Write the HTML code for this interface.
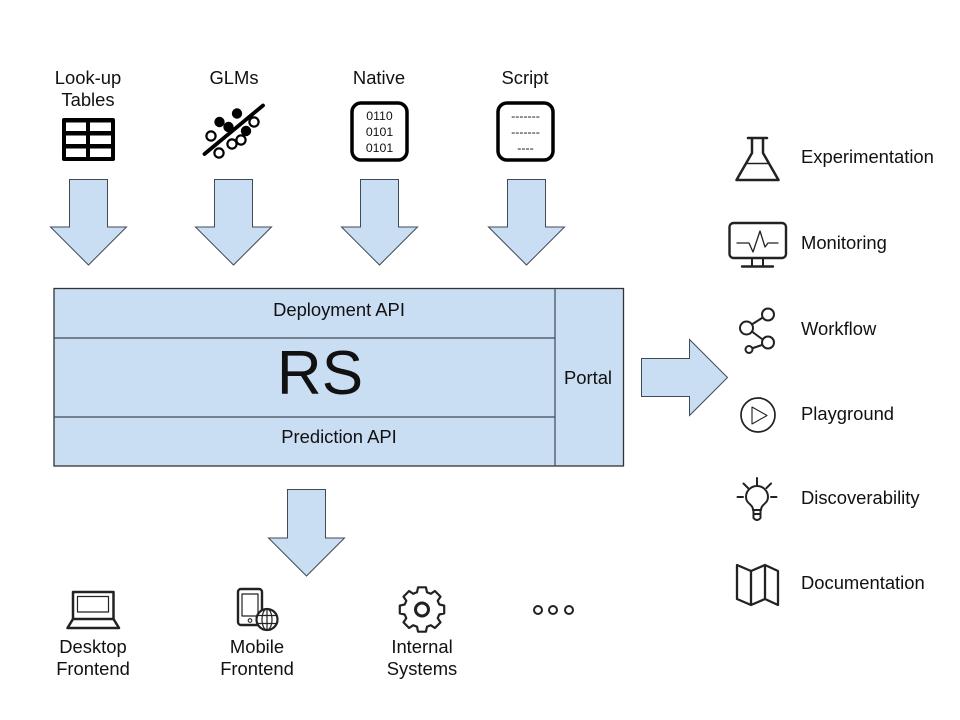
<!DOCTYPE html>
<html><head><meta charset="utf-8"><style>
html,body{margin:0;padding:0;background:#fff}
svg{display:block}
text{font-family:"Liberation Sans",Arial,sans-serif;fill:#111}
.l{font-size:18.4px}
.m{text-anchor:middle}
.a{fill:#c9ddf3;stroke:#3f4a55;stroke-width:1}
.i{fill:none;stroke:#222;stroke-width:2;stroke-linejoin:round;stroke-linecap:round}
</style></head><body>
<svg width="960" height="720" viewBox="0 0 960 720" xmlns="http://www.w3.org/2000/svg">
<rect width="960" height="720" fill="#fff"/>

<!-- top labels -->
<text class="l m" x="88" y="84">Look-up</text>
<text class="l m" x="88" y="106">Tables</text>
<text class="l m" x="234" y="84">GLMs</text>
<text class="l m" x="379" y="84">Native</text>
<text class="l m" x="525" y="84">Script</text>

<!-- table icon -->
<rect x="62" y="118" width="53" height="43" rx="2" fill="#000"/>
<g fill="#fff">
<rect x="66" y="122.500" width="20" height="8.500"/><rect x="90" y="122.500" width="21" height="8.500"/>
<rect x="66" y="135.500" width="20" height="8.500"/><rect x="90" y="135.500" width="21" height="8.500"/>
<rect x="66" y="148.500" width="20" height="8.500"/><rect x="90" y="148.500" width="21" height="8.500"/>
</g>

<!-- GLM icon -->
<line x1="204.500" y1="154" x2="263" y2="105.500" stroke="#000" stroke-width="3.800" stroke-linecap="round"/>
<g fill="#000"><circle cx="219.500" cy="122" r="5.200"/><circle cx="228.500" cy="127" r="5.200"/><circle cx="237" cy="113.500" r="5.200"/><circle cx="246" cy="131" r="5.200"/></g>
<g fill="#fff" stroke="#000" stroke-width="2.200"><circle cx="254" cy="122" r="4.600"/><circle cx="211" cy="136" r="4.600"/><circle cx="241" cy="140" r="4.600"/><circle cx="232" cy="144" r="4.600"/><circle cx="219" cy="153" r="4.600"/></g>

<!-- native / script icons -->
<rect x="352" y="103" width="55" height="57" rx="9" fill="#fff" stroke="#000" stroke-width="3.500"/>
<text x="379.500" y="120" font-size="12.300" class="m">0110</text>
<text x="379.500" y="136" font-size="12.300" class="m">0101</text>
<text x="379.500" y="152" font-size="12.300" class="m">0101</text>
<rect x="498" y="103" width="55" height="57" rx="9" fill="#fff" stroke="#000" stroke-width="3.500"/>
<text x="525.500" y="120" font-size="12.300" class="m">-------</text>
<text x="525.500" y="136" font-size="12.300" class="m">-------</text>
<text x="525.500" y="152" font-size="12.300" class="m">----</text>

<!-- arrows -->
<polygon class="a" points="69.500,179.500 107.500,179.500 107.500,227 126.500,227 88.500,265 50.500,227 69.500,227"/>
<polygon class="a" points="214.500,179.500 252.500,179.500 252.500,227 271.500,227 233.500,265 195.500,227 214.500,227"/>
<polygon class="a" points="360.500,179.500 398.500,179.500 398.500,227 417.500,227 379.500,265 341.500,227 360.500,227"/>
<polygon class="a" points="507.500,179.500 545.500,179.500 545.500,227 564.500,227 526.500,265 488.500,227 507.500,227"/>
<polygon class="a" points="287.500,489.500 325.500,489.500 325.500,538 344.500,538 306.500,576 268.500,538 287.500,538"/>
<polygon class="a" points="641.500,358.500 689.500,358.500 689.500,339.500 727.500,377.500 689.500,415.500 689.500,396.500 641.500,396.500"/>

<!-- main box -->
<rect x="54" y="288.500" width="569.500" height="177.500" fill="#c9ddf3" stroke="#333" stroke-width="1.300"/>
<line x1="555" y1="288.500" x2="555" y2="466" stroke="#3f4a55" stroke-width="1.200"/>
<line x1="54" y1="338" x2="555" y2="338" stroke="#3f4a55" stroke-width="1.200"/>
<line x1="54" y1="417" x2="555" y2="417" stroke="#3f4a55" stroke-width="1.200"/>
<text class="l m" x="339" y="316">Deployment API</text>
<text class="m" x="320" y="394" font-size="62">RS</text>
<text class="l m" x="339" y="443">Prediction API</text>
<text class="l m" x="588" y="384">Portal</text>

<!-- right labels -->
<text class="l" x="801" y="163">Experimentation</text>
<text class="l" x="801" y="249">Monitoring</text>
<text class="l" x="801" y="335">Workflow</text>
<text class="l" x="801" y="420">Playground</text>
<text class="l" x="801" y="504">Discoverability</text>
<text class="l" x="801" y="589">Documentation</text>

<!-- flask -->
<g class="i">
<path d="M748 138H767M752 138V153L736.500 180H778.500L763 153V138" stroke-width="2.500"/>
<path d="M747 163.500H768" stroke-width="1.400"/>
</g>
<!-- monitor -->
<g class="i">
<rect x="729.500" y="223" width="56.500" height="35" rx="4" stroke-width="2.400"/>
<path d="M737 243H749L753 252L760 231L765 247L768 243H778" stroke-width="1.300"/>
<path d="M752 258V266M763 258V266" stroke-width="2"/>
<path d="M742 266.500H773" stroke-width="2.400"/>
</g>
<!-- workflow -->
<g class="i" stroke-width="3">
<circle cx="746.500" cy="328" r="6.500"/><circle cx="768" cy="314.500" r="6"/><circle cx="768" cy="342.500" r="6"/><circle cx="749" cy="349.500" r="3.500"/>
<path d="M752.500 324L762 318M752.500 332L762 339M753 348L762 345"/>
</g>
<!-- play -->
<g class="i">
<circle cx="758" cy="415" r="17" stroke-width="1.700"/>
<path d="M752 407V424L767 415.500Z" stroke-width="1.100"/>
</g>
<!-- bulb -->
<g class="i" stroke-width="2.200">
<path d="M753 510C753 504 746 504 746 497A11 11 0 0 1 768 497C768 504 761 504 761 510"/>
<path d="M753 510H761M753.500 510V518Q757 522 760.500 518V510M753.500 514H760.500" stroke-width="2"/>
<path d="M757 478V485M743.500 483.500L748 488M771 483.500L766.500 488M737.500 497H743M771 497H776.500"/>
</g>
<!-- map -->
<g class="i">
<path d="M737 565L751 571V605L737 599ZM751 571L765 565V599L751 605M765 565L778 571V605L765 599Z" stroke-width="2.300"/>
</g>

<!-- laptop -->
<g class="i">
<path d="M73 619V592H113.500V619" stroke-width="2.500"/>
<rect x="77.500" y="596.500" width="31" height="15.500" stroke-width="1.200"/>
<path d="M73 619L67.500 628H119L113.500 619Z" stroke-width="2.500"/>
</g>
<!-- mobile -->
<g class="i">
<rect x="238" y="589" width="24" height="36" rx="3" stroke-width="2.400"/>
<rect x="242" y="594" width="16" height="22" stroke-width="1.200"/>
<circle cx="250" cy="620.500" r="1.800" stroke-width="1.100"/>
<circle cx="267" cy="619.500" r="10.500" fill="#fff" stroke-width="2.200"/>
<ellipse cx="267" cy="619.500" rx="5" ry="10.500" stroke-width="1.200"/>
<path d="M267 609V630M257 615.500H277M257 623.500H277" stroke-width="1.200"/>
</g>
<!-- gear -->
<g transform="translate(422 609.500)" fill="none" stroke="#222" stroke-linejoin="round">
<path stroke-width="2.200" d="M-5 -17.300L-3.900 -22.200H3.900L5 -17.300L8.700 -15.700L12.900 -18.500L18.500 -12.900L15.700 -8.700L17.300 -5L22.200 -3.900V3.900L17.300 5L15.700 8.700L18.500 12.900L12.900 18.500L8.700 15.700L5 17.300L3.900 22.200H-3.900L-5 17.300L-8.700 15.700L-12.900 18.500L-18.500 12.900L-15.700 8.700L-17.300 5L-22.200 3.900V-3.900L-17.300 -5L-15.700 -8.700L-18.500 -12.900L-12.900 -18.500L-8.700 -15.700Z"/>
<circle r="6.500" stroke-width="3"/>
</g>
<!-- dots -->
<g fill="#fff" stroke="#222" stroke-width="2"><circle cx="538" cy="610" r="4"/><circle cx="553" cy="610" r="4"/><circle cx="569" cy="610" r="4"/></g>

<!-- bottom labels -->
<text class="l m" x="93" y="653">Desktop</text>
<text class="l m" x="93" y="675">Frontend</text>
<text class="l m" x="257" y="653">Mobile</text>
<text class="l m" x="257" y="675">Frontend</text>
<text class="l m" x="422" y="653">Internal</text>
<text class="l m" x="422" y="675">Systems</text>
</svg>
</body></html>
